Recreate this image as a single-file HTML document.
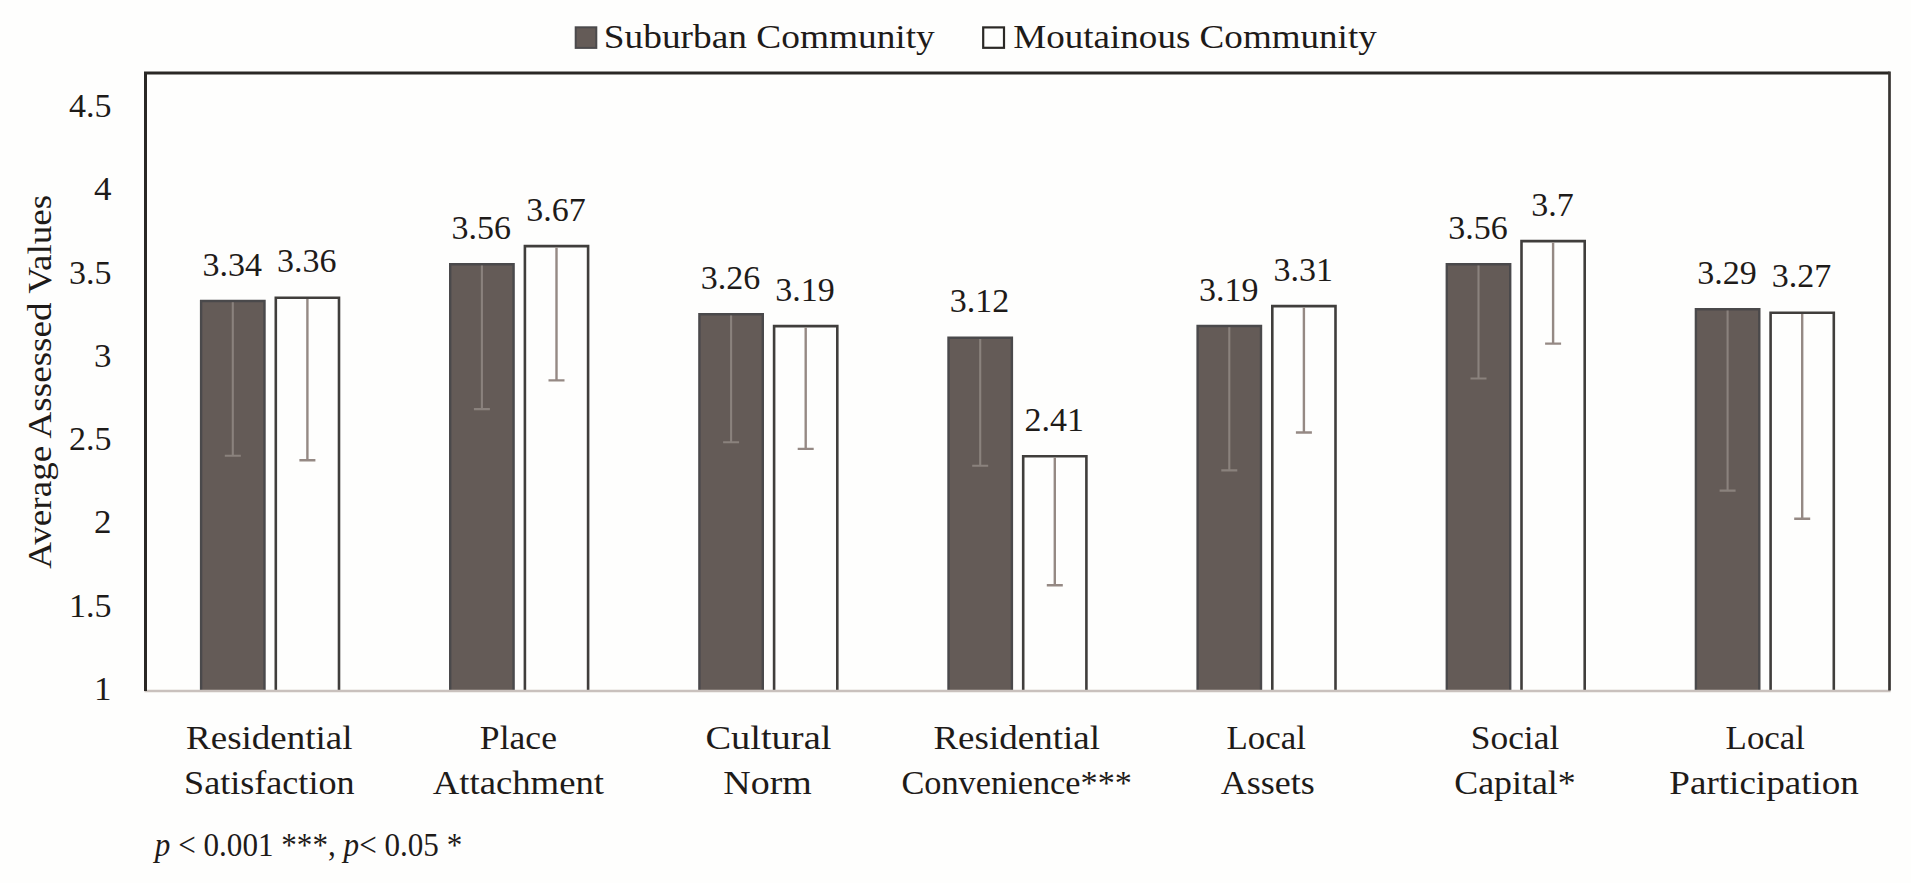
<!DOCTYPE html>
<html lang="en"><head><meta charset="utf-8"><title>Average Assessed Values</title>
<style>html,body{margin:0;padding:0;background:#fefefd;}body{width:1911px;height:883px;overflow:hidden;}svg{display:block;}text{font-family:"Liberation Serif",serif;fill:#1e1b19;}</style></head><body>
<svg width="1911" height="883" viewBox="0 0 1911 883">
<rect x="0" y="0" width="1911" height="883" fill="#fefefd"/>
<rect x="575.7" y="27.3" width="20.6" height="20.6" fill="#645b57" stroke="#4b4a4c" stroke-width="2"/>
<text x="769.3" y="47.7" font-size="34.2" text-anchor="middle" textLength="331.0" lengthAdjust="spacingAndGlyphs">Suburban Community</text>
<rect x="983.2" y="27.4" width="20.8" height="20.4" fill="#fefefd" stroke="#2b2926" stroke-width="2.2"/>
<text x="1195.0" y="47.7" font-size="34.2" text-anchor="middle" textLength="363.5" lengthAdjust="spacingAndGlyphs">Moutainous Community</text>
<path d="M201.1 690.4V301.0H264.5V690.4" fill="#645b57" stroke="#4a494b" stroke-width="2.4"/>
<path d="M232.8 302.2V455.8M224.8 455.8H240.8" fill="none" stroke="#8a827d" stroke-width="2.1"/>
<text x="232.2" y="275.6" font-size="34" text-anchor="middle" textLength="59.5" lengthAdjust="spacingAndGlyphs">3.34</text>
<path d="M275.8 690.4V297.8H339.0V690.4" fill="#fefefd" stroke="#403e3c" stroke-width="2.6"/>
<path d="M307.4 299.1V460.3M299.4 460.3H315.4" fill="none" stroke="#958984" stroke-width="2.4"/>
<text x="306.8" y="272.3" font-size="34" text-anchor="middle" textLength="59.5" lengthAdjust="spacingAndGlyphs">3.36</text>
<path d="M450.2 690.4V264.3H513.6V690.4" fill="#645b57" stroke="#4a494b" stroke-width="2.4"/>
<path d="M481.9 265.5V409.1M473.9 409.1H489.9" fill="none" stroke="#8a827d" stroke-width="2.1"/>
<text x="481.3" y="238.9" font-size="34" text-anchor="middle" textLength="59.5" lengthAdjust="spacingAndGlyphs">3.56</text>
<path d="M524.9 690.4V246.1H588.1V690.4" fill="#fefefd" stroke="#403e3c" stroke-width="2.6"/>
<path d="M556.5 247.4V380.4M548.5 380.4H564.5" fill="none" stroke="#958984" stroke-width="2.4"/>
<text x="555.9" y="220.6" font-size="34" text-anchor="middle" textLength="59.5" lengthAdjust="spacingAndGlyphs">3.67</text>
<path d="M699.4 690.4V314.3H762.8V690.4" fill="#645b57" stroke="#4a494b" stroke-width="2.4"/>
<path d="M731.1 315.5V442.3M723.1 442.3H739.1" fill="none" stroke="#8a827d" stroke-width="2.1"/>
<text x="730.5" y="288.9" font-size="34" text-anchor="middle" textLength="59.5" lengthAdjust="spacingAndGlyphs">3.26</text>
<path d="M774.1 690.4V326.1H837.3V690.4" fill="#fefefd" stroke="#403e3c" stroke-width="2.6"/>
<path d="M805.7 327.4V448.9M797.7 448.9H813.7" fill="none" stroke="#958984" stroke-width="2.4"/>
<text x="805.1" y="300.6" font-size="34" text-anchor="middle" textLength="59.5" lengthAdjust="spacingAndGlyphs">3.19</text>
<path d="M948.5 690.4V337.7H1011.9V690.4" fill="#645b57" stroke="#4a494b" stroke-width="2.4"/>
<path d="M980.2 338.9V465.8M972.2 465.8H988.2" fill="none" stroke="#8a827d" stroke-width="2.1"/>
<text x="979.6" y="312.3" font-size="34" text-anchor="middle" textLength="59.5" lengthAdjust="spacingAndGlyphs">3.12</text>
<path d="M1023.2 690.4V456.2H1086.4V690.4" fill="#fefefd" stroke="#403e3c" stroke-width="2.6"/>
<path d="M1054.8 457.5V585.3M1046.8 585.3H1062.8" fill="none" stroke="#958984" stroke-width="2.4"/>
<text x="1054.2" y="430.7" font-size="34" text-anchor="middle" textLength="59.5" lengthAdjust="spacingAndGlyphs">2.41</text>
<path d="M1197.6 690.4V326.0H1261.0V690.4" fill="#645b57" stroke="#4a494b" stroke-width="2.4"/>
<path d="M1229.3 327.2V470.4M1221.3 470.4H1237.3" fill="none" stroke="#8a827d" stroke-width="2.1"/>
<text x="1228.7" y="300.6" font-size="34" text-anchor="middle" textLength="59.5" lengthAdjust="spacingAndGlyphs">3.19</text>
<path d="M1272.3 690.4V306.1H1335.5V690.4" fill="#fefefd" stroke="#403e3c" stroke-width="2.6"/>
<path d="M1303.9 307.4V432.5M1295.9 432.5H1311.9" fill="none" stroke="#958984" stroke-width="2.4"/>
<text x="1303.3" y="280.6" font-size="34" text-anchor="middle" textLength="59.5" lengthAdjust="spacingAndGlyphs">3.31</text>
<path d="M1446.8 690.4V264.3H1510.2V690.4" fill="#645b57" stroke="#4a494b" stroke-width="2.4"/>
<path d="M1478.5 265.5V378.5M1470.5 378.5H1486.5" fill="none" stroke="#8a827d" stroke-width="2.1"/>
<text x="1477.9" y="238.9" font-size="34" text-anchor="middle" textLength="59.5" lengthAdjust="spacingAndGlyphs">3.56</text>
<path d="M1521.5 690.4V241.1H1584.7V690.4" fill="#fefefd" stroke="#403e3c" stroke-width="2.6"/>
<path d="M1553.1 242.4V343.6M1545.1 343.6H1561.1" fill="none" stroke="#958984" stroke-width="2.4"/>
<text x="1552.5" y="215.6" font-size="34" text-anchor="middle" textLength="42.5" lengthAdjust="spacingAndGlyphs">3.7</text>
<path d="M1695.9 690.4V309.3H1759.3V690.4" fill="#645b57" stroke="#4a494b" stroke-width="2.4"/>
<path d="M1727.6 310.5V490.6M1719.6 490.6H1735.6" fill="none" stroke="#8a827d" stroke-width="2.1"/>
<text x="1727.0" y="283.9" font-size="34" text-anchor="middle" textLength="59.5" lengthAdjust="spacingAndGlyphs">3.29</text>
<path d="M1770.6 690.4V312.8H1833.8V690.4" fill="#fefefd" stroke="#403e3c" stroke-width="2.6"/>
<path d="M1802.2 314.1V518.7M1794.2 518.7H1810.2" fill="none" stroke="#958984" stroke-width="2.4"/>
<text x="1801.6" y="287.3" font-size="34" text-anchor="middle" textLength="59.5" lengthAdjust="spacingAndGlyphs">3.27</text>
<line x1="144.5" y1="691" x2="1890.5" y2="691" stroke="#c9c1bd" stroke-width="2.6"/>
<path d="M145.5 691V73.0H1889.5" fill="none" stroke="#2a2825" stroke-width="3"/>
<path d="M1889.5 71.5V690.6" fill="none" stroke="#383532" stroke-width="2.7"/>
<text x="111.6" y="699.9" font-size="34" text-anchor="end" textLength="17.5" lengthAdjust="spacingAndGlyphs">1</text>
<text x="111.6" y="616.6" font-size="34" text-anchor="end" textLength="42.5" lengthAdjust="spacingAndGlyphs">1.5</text>
<text x="111.6" y="533.3" font-size="34" text-anchor="end" textLength="17.5" lengthAdjust="spacingAndGlyphs">2</text>
<text x="111.6" y="450.1" font-size="34" text-anchor="end" textLength="42.5" lengthAdjust="spacingAndGlyphs">2.5</text>
<text x="111.6" y="366.8" font-size="34" text-anchor="end" textLength="17.5" lengthAdjust="spacingAndGlyphs">3</text>
<text x="111.6" y="283.5" font-size="34" text-anchor="end" textLength="42.5" lengthAdjust="spacingAndGlyphs">3.5</text>
<text x="111.6" y="200.2" font-size="34" text-anchor="end" textLength="17.5" lengthAdjust="spacingAndGlyphs">4</text>
<text x="111.6" y="116.9" font-size="34" text-anchor="end" textLength="42.5" lengthAdjust="spacingAndGlyphs">4.5</text>
<text transform="translate(50.8,381.8) rotate(-90)" x="0" y="0" font-size="34.2" text-anchor="middle" textLength="374" lengthAdjust="spacingAndGlyphs">Average Assessed Values</text>
<text x="269.3" y="749.2" font-size="34.2" text-anchor="middle" textLength="166.5" lengthAdjust="spacingAndGlyphs">Residential</text>
<text x="269.3" y="793.7" font-size="34.2" text-anchor="middle" textLength="170.5" lengthAdjust="spacingAndGlyphs">Satisfaction</text>
<text x="518.4" y="749.2" font-size="34.2" text-anchor="middle" textLength="77.1" lengthAdjust="spacingAndGlyphs">Place</text>
<text x="518.4" y="793.7" font-size="34.2" text-anchor="middle" textLength="171.3" lengthAdjust="spacingAndGlyphs">Attachment</text>
<text x="768.4" y="749.2" font-size="34.2" text-anchor="middle" textLength="126.0" lengthAdjust="spacingAndGlyphs">Cultural</text>
<text x="767.6" y="793.7" font-size="34.2" text-anchor="middle" textLength="88.5" lengthAdjust="spacingAndGlyphs">Norm</text>
<text x="1016.7" y="749.2" font-size="34.2" text-anchor="middle" textLength="166.5" lengthAdjust="spacingAndGlyphs">Residential</text>
<text x="1016.7" y="793.7" font-size="34.2" text-anchor="middle" textLength="230.5" lengthAdjust="spacingAndGlyphs">Convenience***</text>
<text x="1266.2" y="749.2" font-size="34.2" text-anchor="middle" textLength="79.5" lengthAdjust="spacingAndGlyphs">Local</text>
<text x="1267.8" y="793.7" font-size="34.2" text-anchor="middle" textLength="94.0" lengthAdjust="spacingAndGlyphs">Assets</text>
<text x="1515.0" y="749.2" font-size="34.2" text-anchor="middle" textLength="88.5" lengthAdjust="spacingAndGlyphs">Social</text>
<text x="1515.0" y="793.7" font-size="34.2" text-anchor="middle" textLength="121.5" lengthAdjust="spacingAndGlyphs">Capital*</text>
<text x="1765.3" y="749.2" font-size="34.2" text-anchor="middle" textLength="79.5" lengthAdjust="spacingAndGlyphs">Local</text>
<text x="1764.1" y="793.7" font-size="34.2" text-anchor="middle" textLength="189.5" lengthAdjust="spacingAndGlyphs">Participation</text>
<text x="154.8" y="855.7" font-size="33.5" textLength="307.5" lengthAdjust="spacingAndGlyphs"><tspan font-style="italic">p</tspan> &lt; 0.001 ***, <tspan font-style="italic">p</tspan>&lt; 0.05 *</text>
</svg></body></html>
